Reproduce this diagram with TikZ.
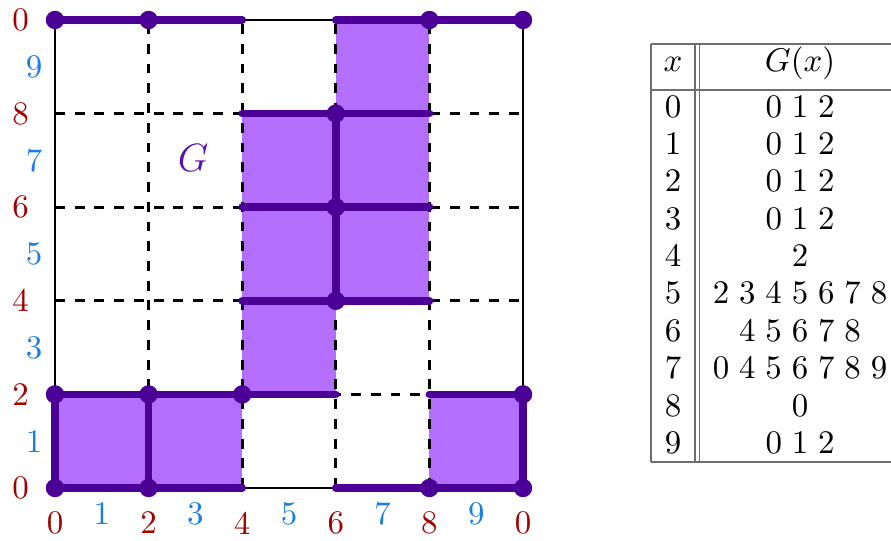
\documentclass[tikz,border=0pt]{standalone}
\definecolor{fillp}{RGB}{179,110,252}
\definecolor{linep}{RGB}{75,0,150}
\definecolor{gtext}{RGB}{90,15,175}
\definecolor{evenc}{RGB}{160,0,0}
\definecolor{oddc}{RGB}{25,125,225}
\definecolor{tabline}{RGB}{110,110,110}
\tikzset{
  cell/.style={fill=fillp},
  gridline/.style={dashed, line width=0.8pt},
  border/.style={line width=0.6pt},
  edge/.style={linep, line width=2.35pt, line cap=round},
  vdot/.style={fill=linep},
  evenlab/.style={text=evenc, inner sep=0pt},
  oddlab/.style={text=oddc, inner sep=0pt},
  tline/.style={tabline, line width=0.5pt},
  tabtxt/.style={anchor=base, inner sep=0pt, execute at begin node={\spaceskip=3pt\relax}},
}
\begin{document}
\begin{tikzpicture}[x=0.5cm,y=0.5cm]
\useasboundingbox (-1.175,-1.111) rectangle (17.862,10.427);
\foreach \i in {0,2,...,10}{\foreach \j in {0,2,...,10}{\coordinate (g-\i-\j) at (\i,\j);}}
% filled cells
\fill[cell] (g-0-0) rectangle (g-4-2);
\fill[cell] (g-8-0) rectangle (g-10-2);
\fill[cell] (g-4-2) rectangle (g-6-8);
\fill[cell] (g-6-4) rectangle (g-8-10);
% dashed grid
\foreach \k in {2,4,6,8}{
  \draw[gridline] (g-\k-0) -- (g-\k-10);
  \draw[gridline] (g-0-\k) -- (g-10-\k);
}
\draw[border] (g-0-0) rectangle (g-10-10);
% thick edges
\draw[edge] (g-0-10) -- (g-4-10);
\draw[edge] (g-6-10) -- (g-10-10);
\draw[edge] (g-0-0) -- (g-4-0);
\draw[edge] (g-6-0) -- (g-10-0);
\draw[edge] (g-0-2) -- (g-6-2);
\draw[edge] (g-8-2) -- (g-10-2);
\draw[edge] (g-0-0) -- (g-0-2);
\draw[edge] (g-2-0) -- (g-2-2);
\draw[edge] (g-10-0) -- (g-10-2);
\draw[edge] (g-4-4) -- (g-8-4);
\draw[edge] (g-4-6) -- (g-8-6);
\draw[edge] (g-4-8) -- (g-8-8);
\draw[edge] (g-6-4) -- (g-6-8);
% vertices
\foreach \p in {0-0,2-0,8-0,10-0,0-2,2-2,4-2,10-2,6-4,6-6,6-8,0-10,2-10,8-10,10-10}{
  \fill[vdot] (g-\p) circle (2.8pt);
}
% axis labels
\foreach \v/\t in {0/0,2/2,4/4,6/6,8/8,10/0}{
  \node[evenlab] (ly\v) at (-0.737,\v) {\t};
  \node[evenlab] (lx\v) at (\v,-0.748) {\t};
}
\foreach \v in {1,3,5,7,9}{
  \node[oddlab] (ly\v) at (-0.449,\v) {\v};
  \node[oddlab] (lx\v) at (\v,-0.556) {\v};
}
\node[text=gtext, font=\fontsize{13}{15}\selectfont] (glab) at (2.95,7.05) {$G$};
% table
\draw[tline] (12.735,9.487) -- (18.2,9.487);
\draw[tline] (12.735,8.504) -- (18.2,8.504);
\draw[tline] (12.735,0.556) -- (18.2,0.556);
\draw[tline] (12.735,0.556) -- (12.735,9.487);
\draw[tline] (13.675,0.556) -- (13.675,9.487);
\draw[tline] (13.771,0.556) -- (13.771,9.487);
\node[tabtxt] (hx) at (13.205,8.889) {$x$};
\node[tabtxt] (hg) at (15.919,8.889) {$G(x)$};
\foreach \i/\s in {0/0 1 2,1/0 1 2,2/0 1 2,3/0 1 2,4/2,5/2 3 4 5 6 7 8,6/4 5 6 7 8,7/0 4 5 6 7 8 9,8/0,9/0 1 2}{
  \node[tabtxt] (rx\i) at (13.205,7.927-0.799*\i) {\i};
  \node[tabtxt] (rg\i) at (15.919,7.927-0.799*\i) {\s};
}
\end{tikzpicture}
\end{document}
